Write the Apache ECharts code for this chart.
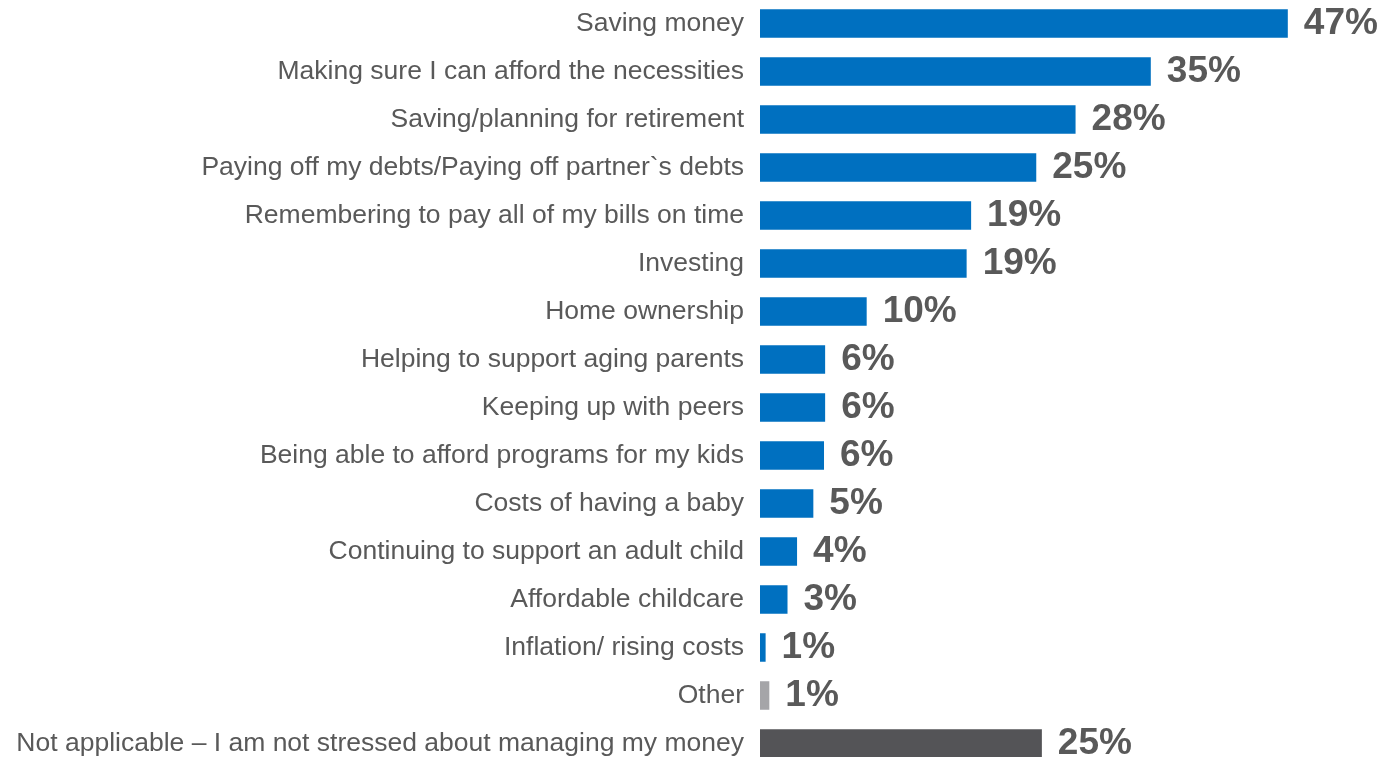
<!DOCTYPE html>
<html>
<head>
<meta charset="utf-8">
<script src="https://cdn.jsdelivr.net/npm/echarts@6/dist/echarts.min.js"></script>
<style>
  html, body { margin: 0; padding: 0; background: #ffffff; }
  #chart { width: 1383px; height: 757px; }
</style>
</head>
<body>
<div id="chart"></div>
<script>
const categories = [
  "Saving money",
  "Making sure I can afford the necessities",
  "Saving/planning for retirement",
  "Paying off my debts/Paying off partner`s debts",
  "Remembering to pay all of my bills on time",
  "Investing",
  "Home ownership",
  "Helping to support aging parents",
  "Keeping up with peers",
  "Being able to afford programs for my kids",
  "Costs of having a baby",
  "Continuing to support an adult child",
  "Affordable childcare",
  "Inflation/ rising costs",
  "Other",
  "Not applicable – I am not stressed about managing my money"
];
const values = [47, 34.8, 28.1, 24.6, 18.8, 18.4, 9.5, 5.8, 5.8, 5.7, 4.75, 3.3, 2.45, 0.5, 0.83, 25.1];
const valueLabels = ["47%", "35%", "28%", "25%", "19%", "19%", "10%", "6%", "6%", "6%", "5%", "4%", "3%", "1%", "1%", "25%"];
const groups = ["main","main","main","main","main","main","main","main","main","main","main","main","main","main","other","na"];

const groupColors = { main: "#0070C0", other: "#A5A5A8", na: "#545457" };

const chart = echarts.init(document.getElementById("chart"), null, { renderer: "canvas" });
chart.setOption({
  animation: false,
  backgroundColor: "#ffffff",
  grid: { left: 760, width: 561.5, top: -0.5, height: 768, containLabel: false, outerBoundsMode: "none" },
  xAxis: {
    type: "value", min: 0, max: 50,
    show: false
  },
  yAxis: {
    type: "category",
    inverse: true,
    data: categories,
    axisLine: { show: false },
    axisTick: { show: false },
    splitLine: { show: false },
    axisLabel: {
      margin: 16,
      color: "#595959",
      fontFamily: "Liberation Sans, Arial, sans-serif",
      fontSize: 26.5
    }
  },
  series: [{
    type: "bar",
    barWidth: 28.5,
    data: values.map((v, i) => ({
      value: v,
      itemStyle: { color: groupColors[groups[i]] }
    })),
    label: {
      show: true,
      position: "right",
      distance: 16,
      formatter: p => valueLabels[p.dataIndex],
      color: "#595959",
      fontFamily: "Liberation Sans, Arial, sans-serif",
      fontWeight: "bold",
      fontSize: 37
    }
  }]
});
</script>
</body>
</html>
